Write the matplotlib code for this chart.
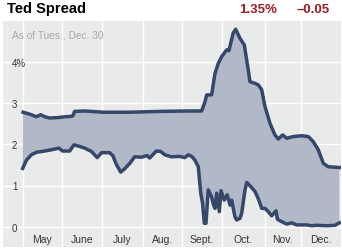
import matplotlib
matplotlib.use("Agg")
import matplotlib.pyplot as plt
import numpy as np

plt.rcParams['font.family'] = ['Liberation Sans', 'DejaVu Sans']

# ---- data (x = trading-day index from May 1, 2008) ----
upper_x = [0.2, 4.6, 7.2, 9.6, 11.7, 14.4, 18.8, 22.4, 25.9, 26.8, 27.6, 33.0, 42.8, 57.1,
           73.1, 88.0, 95.3, 97.1, 98.0, 100.6, 102.4, 104.2, 106.0, 108.6, 109.8, 112.1,
           113.4, 115.7, 118.0, 120.1, 121.0, 123.7, 125.5, 127.3, 129.0, 131.7, 134.3,
           136.1, 138.4, 140.6, 144.1, 148.6, 152.1, 154.7, 157.4, 160.1, 162.7, 168.6]
upper_y = [2.78, 2.72, 2.67, 2.72, 2.67, 2.64, 2.65, 2.67, 2.68, 2.70, 2.80, 2.81, 2.78, 2.78,
           2.80, 2.81, 2.81, 3.04, 3.20, 3.20, 3.72, 3.97, 4.13, 4.29, 4.27, 4.70,
           4.79, 4.57, 4.41, 3.81, 3.52, 3.48, 3.44, 3.32, 2.92, 2.51, 2.23,
           2.13, 2.23, 2.15, 2.19, 2.21, 2.19, 2.07, 1.87, 1.54, 1.46, 1.44]

lower_x = [0.0, 2.0, 4.6, 7.3, 11.7, 15.2, 19.3, 21.2, 25.0, 27.3, 30.4, 33.0, 36.6, 39.7,
           42.0, 46.3, 48.1, 49.8, 52.2, 54.3, 57.0, 59.6, 63.2, 66.3, 67.6, 71.1, 73.5,
           75.6, 79.1, 83.6, 86.3, 88.2, 90.0, 91.7, 93.5, 94.8, 95.8, 96.7, 97.6, 98.8,
           100.6, 101.5, 102.4, 103.3, 104.7, 105.6, 107.3, 108.9, 110.4, 111.3, 113.0,
           113.9, 115.7, 116.6, 118.4, 119.3, 121.0, 123.7, 125.5, 127.3, 129.0, 130.8,
           132.6, 134.9, 135.6, 137.0, 140.6, 143.2, 145.9, 151.2, 153.9, 156.5, 161.9,
           166.3, 168.6]
lower_y = [1.42, 1.62, 1.75, 1.81, 1.84, 1.87, 1.91, 1.84, 1.84, 1.99, 1.95, 1.91, 1.83, 1.68,
           1.80, 1.80, 1.72, 1.52, 1.33, 1.41, 1.54, 1.70, 1.69, 1.73, 1.67, 1.84, 1.83,
           1.75, 1.70, 1.71, 1.68, 1.75, 1.71, 1.62, 1.46, 0.82, 0.57, 0.09, 0.09, 0.90,
           0.73, 0.55, 0.45, 0.82, 0.37, 0.88, 0.65, 0.78, 0.53, 0.65, 0.25,
           0.17, 0.21, 0.33, 0.90, 1.08, 1.00, 0.86, 0.68, 0.45, 0.45, 0.37,
           0.27, 0.39, 0.19, 0.15, 0.07, 0.10, 0.05, 0.05, 0.03, 0.04, 0.03,
           0.04, 0.10]

month_starts = [0, 21, 42, 64, 85, 106, 129, 148]
month_labels = ['May', 'June', 'July', 'Aug.', 'Sept.', 'Oct.', 'Nov.', 'Dec.']
y_ticks = [0, 1, 2, 3, 4]
y_labels = ['0', '1', '2', '3', '4%']
title = 'Ted Spread'
value_text = '1.35%'
change_text = '\u20130.05'
asof_text = 'As of Tues., Dec. 30'

XMIN, XMAX = -10.5, 169.5
YMIN, YMAX = -0.485, 4.99

fig = plt.figure(figsize=(3.42, 2.48), dpi=100)
fig.patch.set_facecolor('white')
ax = fig.add_axes([3/342, 1 - 247/248, 338/342, 226/248])
ax.set_facecolor('#e9ebeb')
ax.set_xlim(XMIN, XMAX)
ax.set_ylim(YMIN, YMAX)
for s in ax.spines.values():
    s.set_visible(False)
ax.set_xticks([])
ax.set_yticks([])

for m in month_starts:
    ax.axvline(m, color='white', lw=1.0, zorder=1)
for t in y_ticks:
    ax.axhline(t, color='white', lw=1.0, zorder=1)

fill_x = np.concatenate([upper_x, lower_x[::-1]])
fill_y = np.concatenate([upper_y, lower_y[::-1]])
ax.fill(fill_x, fill_y, color='#b1b8c7', lw=0, zorder=2)
line_color = '#37476a'
ax.plot(upper_x, upper_y, color=line_color, lw=2.5, solid_joinstyle='round', zorder=3)
ax.plot(lower_x, lower_y, color=line_color, lw=2.5, solid_joinstyle='round', zorder=3)

# y labels
for t, lab in zip(y_ticks, y_labels):
    ax.text(0.0266, t - 0.04, lab, transform=ax.get_yaxis_transform(),
            ha='left', va='center', fontsize=7, color='#333333', zorder=4)

# month labels
edges = month_starts + [XMAX]
for i, lab in enumerate(month_labels):
    cx = (edges[i] + edges[i + 1]) / 2
    ax.text(cx, -0.315, lab, ha='center', va='center', fontsize=7.5,
            color='#333333', zorder=4)

ax.text(0.026, 0.935, asof_text, transform=ax.transAxes, ha='left', va='center',
        fontsize=7.3, color='#a8a8a8', zorder=4)

fig.text(7.3/342, 1 - 13.3/248, title, ha='left', va='baseline',
         fontsize=10.5, fontweight='bold', color='black')
fig.text(277/342, 1 - 13.3/248, value_text, ha='right', va='baseline',
         fontsize=9.5, fontweight='bold', color='#9b1c22')
fig.text(330/342, 1 - 13.3/248, change_text, ha='right', va='baseline',
         fontsize=9.5, fontweight='bold', color='#9b1c22')

fig.savefig('out.png', dpi=100)
